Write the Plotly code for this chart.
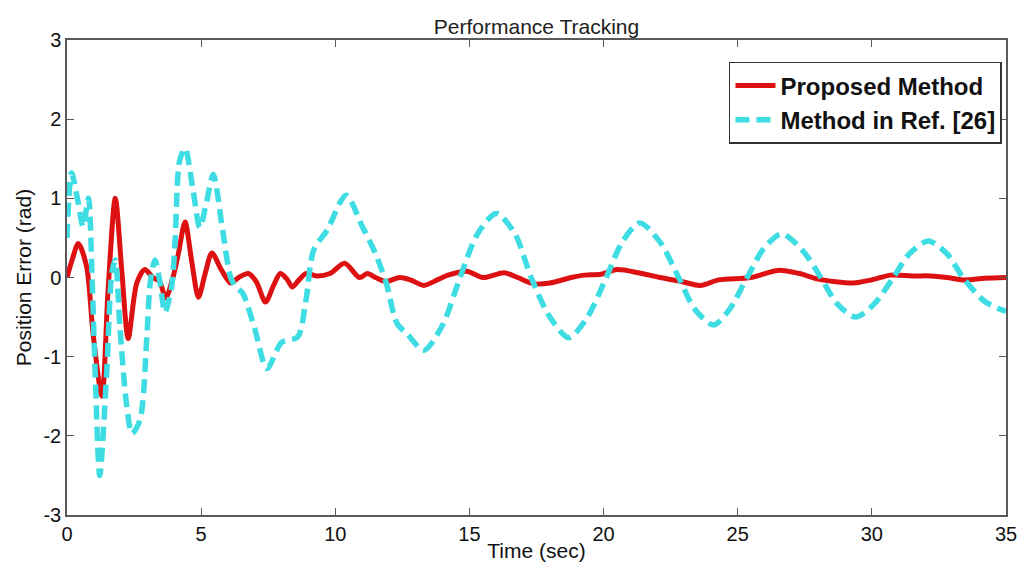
import plotly.graph_objects as go

# ---- data ----
t_proposed = [0, 0.19, 0.42, 0.73, 0.97, 1.3, 1.53, 1.8, 2.05, 2.28, 2.6, 2.9, 3.2, 3.45, 3.68,
              3.95, 4.15, 4.4, 4.65, 4.9, 5.15, 5.4, 5.75, 6.1, 6.4, 6.75, 7.05, 7.4, 7.7, 7.95,
              8.2, 8.4, 8.65, 8.9, 9.3, 9.8, 10.35, 10.9, 11.2, 11.5, 11.9, 12.4, 12.8, 13.3,
              13.8, 14.2, 14.9, 15.5, 16.3, 16.8, 17.4, 18.0, 18.8, 19.3, 19.9, 20.5, 21.3,
              22.1, 22.9, 23.6, 24.3, 25.5, 26.5, 27.3, 28.0, 29.3, 30.0, 30.7, 31.5, 32.2,
              32.8, 33.4, 34.2, 35]
e_proposed = [0, 0.22, 0.43, 0.14, -0.7, -1.5, -0.16, 1.0, 0.05, -0.77, -0.07, 0.1, 0.0, -0.05,
              -0.26, 0.0, 0.3, 0.7, 0.2, -0.25, 0.05, 0.31, 0.1, -0.07, 0.0, 0.05, -0.05, -0.31,
              -0.1, 0.05, -0.02, -0.12, -0.03, 0.05, 0.02, 0.05, 0.18, 0.0, 0.05, 0.0, -0.05,
              0.0, -0.03, -0.1, -0.03, 0.03, 0.08, 0.0, 0.06, 0.0, -0.08, -0.07, 0.0, 0.03,
              0.04, 0.1, 0.06, 0.0, -0.05, -0.1, -0.03, 0.0, 0.09, 0.05, -0.02, -0.07, -0.03,
              0.03, 0.02, 0.02, 0.0, -0.03, -0.01, 0.0]

t_ref26 = [0, 0.17, 0.42, 0.6, 0.8, 0.93, 1.05, 1.22, 1.48, 1.67, 1.8, 1.97, 2.23, 2.42, 2.72,
           2.97, 3.1, 3.28, 3.47, 3.65, 3.9, 4.03, 4.2, 4.4, 4.7, 4.95, 5.2, 5.45, 5.8, 6.1,
           6.3, 6.55, 7.0, 7.45, 8.0, 8.6, 8.9, 9.2, 9.7, 10.4, 11.0, 11.5, 11.9, 12.3, 12.7,
           13.3, 14.0, 14.65, 15.3, 16.0, 16.7, 17.3, 18.0, 18.7, 19.4, 20.1, 20.7, 21.35,
           22.1, 22.8, 23.4, 24.1, 24.7, 25.35, 26.0, 26.65, 27.4, 28.1, 28.7, 29.4, 30.1,
           30.8, 31.4, 32.1, 32.8, 33.4, 34.2, 35]
e_ref26 = [0.5, 1.32, 0.94, 0.64, 1.0, 0.05, -1.2, -2.5, -1.2, 0.05, 0.22, -0.62, -1.63, -1.97,
           -1.8, -0.79, -0.07, 0.22, -0.07, -0.44, -0.12, 0.47, 1.48, 1.63, 1.1, 0.63, 0.95,
           1.3, 0.6, 0.0, -0.12, -0.2, -0.65, -1.15, -0.82, -0.75, -0.3, 0.35, 0.6, 1.04,
           0.65, 0.3, -0.07, -0.58, -0.72, -0.92, -0.6, 0.0, 0.55, 0.81, 0.55, 0.0, -0.5,
           -0.76, -0.5, 0.0, 0.45, 0.69, 0.45, 0.0, -0.4, -0.6, -0.4, 0.0, 0.38, 0.55, 0.35,
           0.0, -0.33, -0.5, -0.33, 0.0, 0.3, 0.46, 0.3, 0.0, -0.3, -0.43]

x_ticks = [0, 5, 10, 15, 20, 25, 30, 35]
y_ticks = [-3, -2, -1, 0, 1, 2, 3]

FONT = "Liberation Sans, Arial, sans-serif"
AX = "#5a5a5a"

fig = go.Figure()
fig.add_trace(go.Scatter(
    x=t_proposed, y=e_proposed, mode="lines", name="Proposed Method",
    line=dict(color="#dd1111", width=5, shape="spline", smoothing=0.8)))
fig.add_trace(go.Scatter(
    x=t_ref26, y=e_ref26, mode="lines", name="Method in Ref. [26]",
    line=dict(color="#3ddde3", width=5.5, dash="14px,7px", shape="spline", smoothing=0.8)))

axis_common = dict(showgrid=False, zeroline=False, showline=True, linecolor=AX, linewidth=1.5,
                   mirror="ticks", ticks="inside", ticklen=7, tickcolor=AX, tickwidth=1,
                   tickfont=dict(family=FONT, size=20, color="#111"))

fig.update_xaxes(range=[0, 35], tickvals=x_ticks, ticktext=[str(v) for v in x_ticks],
                 title=dict(text="Time (sec)", font=dict(family=FONT, size=21, color="#111"),
                            standoff=0),
                 **axis_common)
fig.update_yaxes(range=[-3, 3], tickvals=y_ticks, ticktext=[str(v) for v in y_ticks],
                 title=dict(text="Position Error (rad)", font=dict(family=FONT, size=21, color="#111"),
                            standoff=6),
                 **axis_common)

fig.update_layout(
    width=1019, height=564,
    margin=dict(l=67, r=13, t=40, b=49, autoexpand=False),
    paper_bgcolor="white", plot_bgcolor="white",
    title=dict(text="Performance Tracking", x=0.5265, xanchor="center", y=0.952, yanchor="middle",
               font=dict(family=FONT, size=21, color="#222")),
    legend=dict(x=0.9957, y=0.954, xanchor="right", yanchor="top",
                bordercolor="#333", borderwidth=1.5, bgcolor="white",
                font=dict(family=FONT, size=24, color="#111", weight="bold"),
                tracegroupgap=0, itemwidth=40),
    showlegend=True,
)

fig.write_html("out.html")
